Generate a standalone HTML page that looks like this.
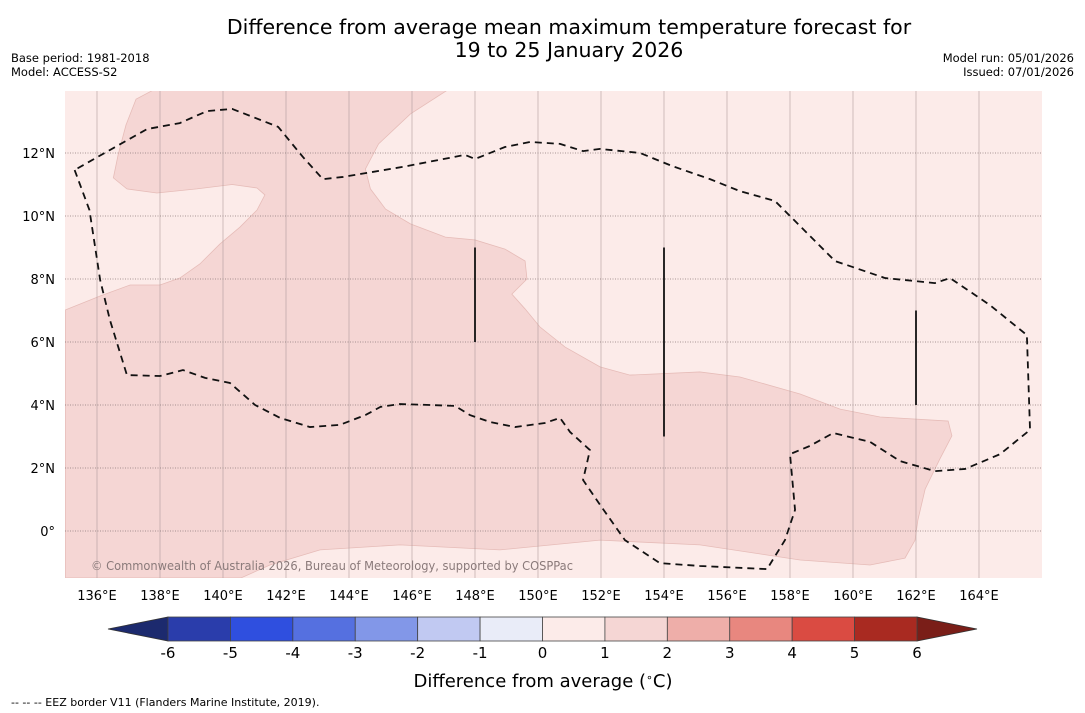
<!DOCTYPE html>
<html><head><meta charset="utf-8"><style>
body{margin:0;background:#fff;width:1085px;height:713px;overflow:hidden;font-family:"DejaVu Sans","Liberation Sans",sans-serif}
svg{position:absolute;left:0;top:0}
</style></head><body>
<svg width="1085" height="713">
<g id="map"></g>
<g id="cb"></g>
<text x="569" y="34" text-anchor="middle" font-size="20.5">Difference from average mean maximum temperature forecast for</text>
<text x="569" y="57" text-anchor="middle" font-size="20.5">19 to 25 January 2026</text>
<text x="11" y="62" font-size="11.5">Base period: 1981-2018</text>
<text x="11" y="76" font-size="11.5">Model: ACCESS-S2</text>
<text x="1074" y="62" font-size="11.5" text-anchor="end">Model run: 05/01/2026</text>
<text x="1074" y="76" font-size="11.5" text-anchor="end">Issued: 07/01/2026</text>
<text x="543" y="687" font-size="18" text-anchor="middle">Difference from average (<tspan font-size="11" dy="-6">∘</tspan><tspan dy="6">C)</tspan></text>
<text x="11" y="706" font-size="11">--  --  -- EEZ border V11 (Flanders Marine Institute, 2019).</text>
</svg>
<script>
const lonTicks=[136,138,140,142,144,146,148,150,152,154,156,158,160,162,164];
const latTicks=[12,10,8,6,4,2,0];
const cbLevels=[-6,-5,-4,-3,-2,-1,0,1,2,3,4,5,6];
const cbColors=["#2a3dab","#2f4fdf","#5570e0","#8297e8","#c1c9f2","#e9ecf8","#fcebe9","#f5d6d4","#eeaea9","#e8877f","#da4b42","#a92a21"];
// warm region (1-2 C) outline in lon/lat
const warmLon=[137.79,147.13,145.95,144.94,144.52,144.68,145.16,145.95,147.06,148.0,148.95,149.59,149.65,149.17,149.59,150.06,150.86,151.97,152.92,155.14,156.41,158.32,159.59,160.86,163.02,163.14,162.76,162.29,162.06,161.97,161.65,160.54,158.32,155.14,151.97,148.79,145.62,143.08,141.49,140.57,135.0,135.0,136.1,137.05,138.0,138.63,139.27,139.9,140.54,141.08,141.33,141.08,140.29,139.17,137.9,136.95,136.52,136.67,136.92,137.24];
const warmLat=[14.0,14.0,13.24,12.29,11.49,10.86,10.22,9.75,9.33,9.24,8.95,8.57,8.0,7.52,7.05,6.48,5.84,5.21,4.95,5.05,4.89,4.35,3.87,3.62,3.49,3.02,2.29,1.33,0.35,-0.29,-0.86,-1.08,-0.92,-0.44,-0.29,-0.6,-0.44,-0.6,-1.08,-1.49,-1.49,7.02,7.46,7.81,7.81,8.03,8.48,9.11,9.65,10.19,10.67,10.89,11.0,10.86,10.73,10.86,11.21,11.94,12.89,13.71];
const eezLon=[135.29,135.76,136.1,136.41,136.95,138.0,138.73,139.43,140.22,141.02,141.81,142.76,143.71,144.52,145.0,145.62,146.57,147.37,147.84,148.48,149.27,150.22,150.7,151.02,151.65,151.43,151.97,152.76,153.87,155.14,157.27,157.84,158.16,158.0,158.63,159.37,160.54,161.49,162.6,163.56,164.67,165.62,165.52,164.35,163.08,162.6,161.02,159.43,158.79,158.16,157.52,156.41,155.46,154.25,153.24,151.97,151.43,150.7,149.75,148.95,148.0,147.68,145.71,143.81,143.17,142.54,141.75,140.29,139.49,138.63,137.59,136.63,135.29];
const eezLat=[11.46,10.19,7.97,6.7,4.95,4.92,5.11,4.86,4.7,4.0,3.59,3.3,3.37,3.68,3.94,4.03,4.0,3.97,3.68,3.46,3.3,3.43,3.59,3.14,2.57,1.62,0.83,-0.29,-1.02,-1.11,-1.21,-0.29,0.67,2.44,2.7,3.11,2.83,2.22,1.9,1.97,2.44,3.21,6.22,7.17,8.03,7.87,8.03,8.57,9.21,9.84,10.48,10.79,11.17,11.59,12.0,12.13,12.06,12.29,12.35,12.19,11.81,11.94,11.56,11.24,11.17,11.87,12.83,13.4,13.33,12.95,12.76,12.22,11.46];
const barLon=[148,154,162];
const barTop=[9,9,7];
const barBot=[6,3,4];

const NS="http://www.w3.org/2000/svg";
const X0=65,X1=1042,Y0=91,Y1=578;
const x=lon=>97+(lon-136)*31.5;
const y=lat=>531-lat*31.5;
function mk(t,a,p){const e=document.createElementNS(NS,t);for(const k in a)e.setAttribute(k,a[k]);p.appendChild(e);return e;}
const map=document.getElementById('map');
const defs=mk('defs',{},map);
const cp=mk('clipPath',{id:'clip'},defs);mk('rect',{x:X0,y:Y0,width:X1-X0,height:Y1-Y0},cp);
const bg=mk('rect',{x:X0,y:Y0,width:X1-X0,height:Y1-Y0,fill:cbColors[6]},map);


const g=mk('g',{'clip-path':'url(#clip)'},map);
const warm=mk('polygon',{points:warmLon.map((l,i)=>x(l)+','+y(warmLat[i])).join(' '),fill:cbColors[7],stroke:'#e6bcb8','stroke-width':0.8},g);


lonTicks.forEach(l=>{
  const ln=mk('line',{x1:x(l),x2:x(l),y1:Y0,y2:Y1,stroke:'#b09c9c','stroke-width':0.6},g);
  
  
  const t=mk('text',{x:x(l),y:600,'text-anchor':'middle','font-size':13},map);t.textContent=l+'°E';
  
  
});
latTicks.forEach(l=>{
  const ln=mk('line',{x1:X0,x2:X1,y1:y(l),y2:y(l),stroke:'#8a7a7a','stroke-width':0.7,'stroke-dasharray':'1,1.5'},g);
  
  
  const t=mk('text',{x:55,y:y(l)+5,'text-anchor':'end','font-size':13},map);t.textContent=l===0?'0°':l+'°N';
  
  
});
const eez=mk('polyline',{points:eezLon.map((l,i)=>x(l)+','+y(eezLat[i])).join(' '),fill:'none',stroke:'#111','stroke-width':1.8,'stroke-dasharray':'7,5'},g);


barLon.forEach((l,i)=>{
  const b=mk('line',{x1:x(l),x2:x(l),y1:y(barTop[i]),y2:y(barBot[i]),stroke:'#111','stroke-width':1.8},g);
  
  
});
const cr=mk('text',{x:91,y:570,'font-size':12,fill:'#8a7a7a',textLength:482,lengthAdjust:'spacingAndGlyphs'},g);cr.textContent='© Commonwealth of Australia 2026, Bureau of Meteorology, supported by COSPPac';


// colorbar
const cb=document.getElementById('cb');
const cx0=168,cx1=917,cy0=617,cy1=641,bw=(cx1-cx0)/cbColors.length;
const lt=mk('polygon',{points:`${cx0},${cy0} ${cx0},${cy1} 108,629`,fill:'#1c2a6e',stroke:'#333','stroke-width':0.8},cb);


const rt=mk('polygon',{points:`${cx1},${cy0} ${cx1},${cy1} 977,629`,fill:'#7a1e18',stroke:'#333','stroke-width':0.8},cb);


cbColors.forEach((c,i)=>{
  const r=mk('rect',{x:cx0+i*bw,y:cy0,width:bw,height:cy1-cy0,fill:c,stroke:'#444','stroke-width':0.8},cb);
  
  
});
cbLevels.forEach((v,i)=>{
  const t=mk('text',{x:cx0+i*bw,y:658,'text-anchor':'middle','font-size':15},cb);t.textContent=v;
  
  
});
</script>
</body></html>
